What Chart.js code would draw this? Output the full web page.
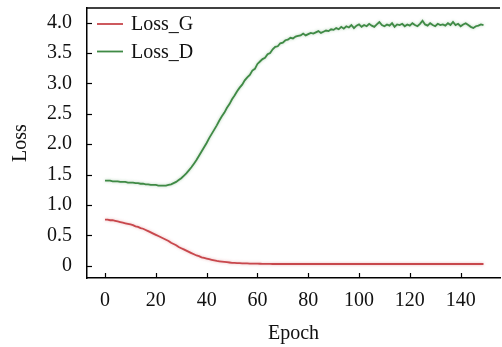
<!DOCTYPE html>
<html>
<head>
<meta charset="utf-8">
<script src="https://cdn.jsdelivr.net/npm/chart.js@4.4.1/dist/chart.umd.min.js"></script>
<style>
  html, body { margin: 0; padding: 0; background: #fff; }
  #lossChart { display: block; }
</style>
</head>
<body>
<canvas id="lossChart" width="502" height="347"></canvas>
<script>
// values, one per epoch (0..149)
const lossG = [
    0.76, 0.76, 0.75, 0.75, 0.74, 0.73, 0.72, 0.71, 0.70, 0.69,
    0.68, 0.67, 0.65, 0.64, 0.62, 0.61, 0.59, 0.57, 0.55, 0.53,
    0.51, 0.49, 0.47, 0.45, 0.43, 0.41, 0.38, 0.36, 0.34, 0.31,
    0.29, 0.27, 0.25, 0.23, 0.21, 0.19, 0.17, 0.16, 0.14, 0.13,
    0.12, 0.11, 0.10, 0.09, 0.08, 0.075, 0.07, 0.065, 0.06, 0.055,
    0.05, 0.048, 0.046, 0.044, 0.042, 0.04, 0.039, 0.038, 0.037, 0.036,
    0.035, 0.034, 0.033, 0.033, 0.032, 0.032, 0.03, 0.03, 0.03, 0.03,
    0.03, 0.03, 0.03, 0.03, 0.03, 0.03, 0.03, 0.03, 0.03, 0.03,
    0.03, 0.03, 0.03, 0.03, 0.03, 0.03, 0.03, 0.03, 0.03, 0.03,
    0.03, 0.03, 0.03, 0.03, 0.03, 0.03, 0.03, 0.03, 0.03, 0.03,
    0.03, 0.03, 0.03, 0.03, 0.03, 0.03, 0.03, 0.03, 0.03, 0.03,
    0.03, 0.03, 0.03, 0.03, 0.03, 0.03, 0.03, 0.03, 0.03, 0.03,
    0.03, 0.03, 0.03, 0.03, 0.03, 0.03, 0.03, 0.03, 0.03, 0.03,
    0.03, 0.03, 0.03, 0.03, 0.03, 0.03, 0.03, 0.03, 0.03, 0.03,
    0.03, 0.03, 0.03, 0.03, 0.03, 0.03, 0.03, 0.03, 0.03, 0.03
];

const lossD = [
    1.40, 1.40, 1.40, 1.39, 1.39, 1.39, 1.38, 1.38, 1.38, 1.37,
    1.37, 1.37, 1.36, 1.36, 1.35, 1.35, 1.34, 1.34, 1.33, 1.33,
    1.33, 1.32, 1.32, 1.32, 1.32, 1.33, 1.34, 1.36, 1.38, 1.41,
    1.44, 1.48, 1.52, 1.57, 1.62, 1.68, 1.74, 1.81, 1.88, 1.95,
    2.02, 2.10, 2.17, 2.24, 2.31, 2.39, 2.46, 2.52, 2.60, 2.66,
    2.74, 2.80, 2.87, 2.93, 2.98, 3.05, 3.10, 3.14, 3.21, 3.24,
    3.32, 3.36, 3.40, 3.42, 3.48, 3.50, 3.56, 3.60, 3.61, 3.66,
    3.67, 3.71, 3.72, 3.75, 3.74, 3.77, 3.78, 3.79, 3.82, 3.79,
    3.81, 3.83, 3.82, 3.84, 3.86, 3.83, 3.85, 3.87, 3.86, 3.89,
    3.88, 3.91, 3.89, 3.93, 3.90, 3.94, 3.92, 3.96, 3.91, 3.95,
    3.97, 3.93, 3.96, 3.94, 3.98, 3.95, 3.93, 3.97, 4.01, 3.96,
    3.94, 3.97, 3.95, 3.99, 3.93, 3.97, 3.96, 3.98, 3.94, 3.97,
    3.95, 3.99, 3.96, 3.94, 3.98, 4.03, 3.97, 3.95, 3.99, 3.96,
    3.94, 3.98, 3.96, 3.97, 3.95, 3.99, 3.96, 4.01, 3.96, 3.98,
    3.94, 3.97, 3.99, 3.96, 3.93, 3.91, 3.94, 3.95, 3.97, 3.96
];

const epochs = lossD.map((_, i) => i);
const xTicks = [0, 20, 40, 60, 80, 100, 120, 140];
const yTicks = [0, 0.5, 1.0, 1.5, 2.0, 2.5, 3.0, 3.5, 4.0];

const serif = '"Liberation Serif", "Times New Roman", serif';
const font20 = { family: serif, size: 20 };

// inward tick marks, top frame line and a legend in the upper left corner
const frame = {
    id: 'frame',
    beforeDatasetDraw(chart, args) {
        const ctx = chart.ctx;
        ctx.save();
        ctx.shadowColor = args.meta.dataset.options.borderColor + '66';
        ctx.shadowBlur = 3;
    },
    afterDatasetDraw(chart) {
        chart.ctx.restore();
    },
    afterDraw(chart) {
        const ctx = chart.ctx;
        const area = chart.chartArea;
        const xs = chart.scales.x, ys = chart.scales.y;
        ctx.save();
        ctx.strokeStyle = '#000';
        ctx.lineWidth = 1.5;
        ctx.beginPath();
        ctx.moveTo(area.left, area.top);
        ctx.lineTo(area.right, area.top);
        ctx.stroke();
        ctx.lineWidth = 1.2;
        xTicks.forEach(v => {
            const px = Math.round(xs.getPixelForValue(v)) + 0.5;
            ctx.beginPath();
            ctx.moveTo(px, area.bottom);
            ctx.lineTo(px, area.bottom - 5);
            ctx.stroke();
        });
        yTicks.forEach(v => {
            const py = Math.round(ys.getPixelForValue(v)) + 0.5;
            ctx.beginPath();
            ctx.moveTo(area.left, py);
            ctx.lineTo(area.left + 5, py);
            ctx.stroke();
        });

        // legend
        ctx.font = '20px ' + serif;
        ctx.textBaseline = 'middle';
        ctx.fillStyle = '#111';
        chart.data.datasets.forEach((ds, i) => {
            const y = 24 + i * 27.5;
            ctx.strokeStyle = ds.borderColor;
            ctx.lineWidth = 1.8;
            ctx.beginPath();
            ctx.moveTo(area.left + 10, y);
            ctx.lineTo(area.left + 36, y);
            ctx.stroke();
            ctx.fillText(ds.label, area.left + 44, y + 1);
        });
        ctx.restore();
    }
};

const lossChart = new Chart(document.getElementById('lossChart').getContext('2d'), {
    type: 'line',
    data: {
        datasets: [{
            label: 'Loss_G',
            data: lossG.map((v, i) => ({ x: epochs[i], y: v })),
            borderColor: '#c8474c',
            borderWidth: 1.8,
            pointRadius: 0,
            fill: false,
            tension: 0
        }, {
            label: 'Loss_D',
            data: lossD.map((v, i) => ({ x: epochs[i], y: v })),
            borderColor: '#3f8a45',
            borderWidth: 1.8,
            pointRadius: 0,
            fill: false,
            tension: 0
        }]
    },
    options: {
        responsive: false,
        animation: false,
        layout: { padding: { top: 8, right: 2, left: 0, bottom: 0 } },
        plugins: {
            legend: { display: false },
            tooltip: { enabled: false }
        },
        scales: {
            x: {
                type: 'linear',
                min: -7.1,
                max: 155.5,
                afterBuildTicks: scale => { scale.ticks = xTicks.map(v => ({ value: v })); },
                afterFit: scale => {
                    scale.height = 69;
                    scale.paddingLeft = 0;
                    scale.paddingRight = 0;
                },
                grid: { drawOnChartArea: false, drawTicks: false },
                border: { color: '#000', width: 1.5 },
                ticks: { font: font20, color: '#111', padding: 11, maxRotation: 0 },
                title: { display: true, text: 'Epoch', font: font20, color: '#111', padding: { top: 0, bottom: 1 } }
            },
            y: {
                min: -0.2,
                max: 4.24,
                afterBuildTicks: scale => { scale.ticks = yTicks.map(v => ({ value: v })); },
                afterFit: scale => {
                    scale.width = 87;
                    scale.paddingTop = 0;
                    scale.paddingBottom = 0;
                },
                grid: { drawOnChartArea: false, drawTicks: false },
                border: { color: '#000', width: 1.5 },
                ticks: {
                    font: font20,
                    color: '#111',
                    padding: 15,
                    callback: v => v === 0 ? '0' : v.toFixed(1)
                },
                title: { display: true, text: 'Loss', font: font20, color: '#111', padding: { top: 9, bottom: 0 } }
            }
        }
    },
    plugins: [frame]
});
</script>
</body>
</html>
